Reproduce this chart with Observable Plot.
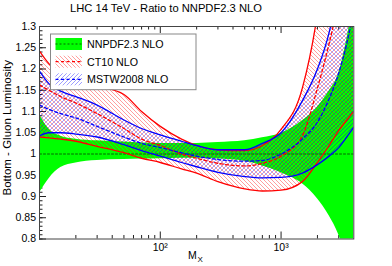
<!DOCTYPE html>
<html><head><meta charset="utf-8">
<script src="https://cdn.jsdelivr.net/npm/d3@7"></script>
<script src="https://cdn.jsdelivr.net/npm/@observablehq/plot@0.6"></script>
<style>
html,body{margin:0;padding:0;background:#fff;}
#chart{width:392px;height:266px;position:relative;}
svg text{font-family:"Liberation Sans",Arial,sans-serif;}
</style></head><body><div id="chart"></div>
<script>
const chartTitle = "LHC 14 TeV - Ratio to NNPDF2.3 NLO";
const yTitle = "Bottom - Gluon Luminosity";
const xTitle = "M";
const xTitleSub = "X";
const seriesNames = ["NNPDF2.3 NLO", "CT10 NLO", "MSTW2008 NLO"];

const mass    = [10, 12, 15, 20, 30, 50, 70, 100, 150, 200, 300, 500, 700, 1000, 1500, 2000, 2500, 3000, 3500, 4000];
const nnpdfUp = [1.093,1.058,1.042,1.035,1.031,1.028,1.026,1.025,1.025,1.025,1.027,1.031,1.038,1.048,1.078,1.110,1.148,1.190,1.270,1.360];
const nnpdfMid= [1,1,1,1,1,1,1,1,1,1,1,1,1,1,1,1,1,1,1,1];
const nnpdfDn = [0.908,0.942,0.968,0.979,0.985,0.987,0.988,0.989,0.990,0.990,0.988,0.983,0.972,0.956,0.930,0.895,0.855,0.810,0.750,0.680];
const ct10Up  = [1.242,1.212,1.190,1.175,1.160,1.140,1.100,1.065,1.035,1.020,1.010,1.008,1.020,1.058,1.155,1.330,1.550,1.800,2.050,2.300];
const ct10Mid = [1.162,1.150,1.135,1.120,1.095,1.060,1.035,1.020,1.000,0.990,0.978,0.972,0.978,0.995,1.043,1.155,1.260,1.360,1.460,1.560];
const ct10Dn  = [1.040,1.038,1.035,1.030,1.018,1.003,0.990,0.980,0.965,0.955,0.935,0.918,0.913,0.915,0.935,0.980,1.020,1.055,1.080,1.100];
const mstwUp  = [1.195,1.165,1.148,1.135,1.115,1.080,1.060,1.045,1.030,1.020,1.010,1.010,1.025,1.050,1.125,1.200,1.286,1.400,1.520,1.650];
const mstwMid = [1.115,1.105,1.095,1.085,1.065,1.040,1.025,1.015,1.003,0.995,0.987,0.983,0.985,1.000,1.035,1.075,1.130,1.190,1.260,1.340];
const mstwDn  = [1.043,1.050,1.050,1.047,1.040,1.022,1.008,0.995,0.980,0.970,0.957,0.947,0.944,0.945,0.955,0.975,0.995,1.015,1.040,1.063];

const yMajor = [0.8,0.85,0.9,0.95,1,1.05,1.1,1.15,1.2,1.25,1.3];
const yMinor = d3.range(80,131).map(v => v/100);
const xMajor = [100, 1000];
const xMinor = [20,30,40,50,60,70,80,90,200,300,400,500,600,700,800,900,2000,3000];
const xLabels = {100: "10²", 1000: "10³"};

const rows = mass.map((m, i) => ({
  m, nU: nnpdfUp[i], nM: nnpdfMid[i], nD: nnpdfDn[i],
  cU: ct10Up[i], cM: ct10Mid[i], cD: ct10Dn[i],
  wU: mstwUp[i], wM: mstwMid[i], wD: mstwDn[i]
}));

const W = 392, H = 266, mL = 39, mR = 38.7, mT = 26, mB = 27.5;
const fw = W - mL - mR, fh = H - mT - mB;
const curve = "monotone-x";
const RED = "#ff0000", BLUE = "#0000ff", GREEN = "#00ff00", DGREEN = "#006a00";

const plot = Plot.plot({
  width: W, height: H,
  marginLeft: mL, marginRight: mR, marginTop: mT, marginBottom: mB,
  style: {fontFamily: "Liberation Sans, Arial, sans-serif", background: "white", overflow: "visible"},
  x: {type: "log", domain: [10, 4000], label: null},
  y: {domain: [0.8, 1.3], label: null},
  marks: [
    Plot.ruleY(yMinor, {insetRight: fw - 3.5, stroke: "#222"}),
    Plot.ruleY(yMajor, {insetRight: fw - 7, stroke: "#222"}),
    Plot.ruleX(xMinor, {insetTop: fh - 3.5, stroke: "#222"}),
    Plot.ruleX(xMajor, {insetTop: fh - 7, stroke: "#222"}),
    Plot.ruleX(xMinor, {insetBottom: fh - 3.5, stroke: "#222"}),
    Plot.ruleX(xMajor, {insetBottom: fh - 7, stroke: "#222"}),
    Plot.areaY(rows, {x: "m", y1: "nD", y2: "nU", fill: GREEN, curve, clip: true}),
    Plot.areaY(rows, {x: "m", y1: "cD", y2: "cU", fill: "url(#hatchRed)", curve, clip: true}),
    Plot.areaY(rows, {x: "m", y1: "wD", y2: "wU", fill: "url(#hatchBlue)", curve, clip: true}),
    Plot.lineY(rows, {x: "m", y: "nM", stroke: DGREEN, strokeWidth: 1, strokeDasharray: "2,2", clip: true}),
    Plot.lineY(rows, {x: "m", y: "cU", stroke: RED, strokeWidth: 1.3, curve, clip: true}),
    Plot.lineY(rows, {x: "m", y: "cD", stroke: RED, strokeWidth: 1.3, curve, clip: true}),
    Plot.lineY(rows, {x: "m", y: "cM", stroke: RED, strokeWidth: 1.3, strokeDasharray: "3,2.5", curve, clip: true}),
    Plot.lineY(rows, {x: "m", y: "wU", stroke: BLUE, strokeWidth: 1.3, curve, clip: true}),
    Plot.lineY(rows, {x: "m", y: "wD", stroke: BLUE, strokeWidth: 1.3, curve, clip: true}),
    Plot.lineY(rows, {x: "m", y: "wM", stroke: BLUE, strokeWidth: 1.3, strokeDasharray: "3,2.5", curve, clip: true}),
    Plot.frame({stroke: "#444"}),
    Plot.axisY(yMajor, {tickSize: 0, tickPadding: 3.5, tickFormat: d => String(+d.toFixed(2)), fontSize: 10.5, label: null}),
    Plot.axisX(xMajor, {tickSize: 0, tickPadding: 4.5, tickFormat: d => xLabels[d], fontSize: 10.5, label: null})
  ]
});
document.getElementById("chart").appendChild(plot);

const svg = d3.select(plot);
const defs = svg.insert("defs", ":first-child");
const pr = defs.append("pattern").attr("id", "hatchRed").attr("patternUnits", "userSpaceOnUse")
  .attr("width", 4).attr("height", 4);
pr.append("path").attr("d", "M-1,-1 L5,5 M-1,3 L1,5 M3,-1 L5,1").attr("stroke", RED).attr("stroke-width", 0.55).attr("stroke-opacity", 0.7);
const pb = defs.append("pattern").attr("id", "hatchBlue").attr("patternUnits", "userSpaceOnUse")
  .attr("width", 4).attr("height", 4);
pb.append("path").attr("d", "M-1,5 L5,-1 M-1,1 L1,-1 M3,5 L5,3").attr("stroke", BLUE).attr("stroke-width", 0.55).attr("stroke-opacity", 0.7);

const font = "Liberation Sans, Arial, sans-serif";
function txt(sel) { return sel.attr("font-family", font).attr("fill", "#000").attr("text-anchor", "start"); }
// title
txt(svg.append("text")).attr("x", 70).attr("y", 11.5).attr("font-size", 11.2).text(chartTitle);
// y title
txt(svg.append("text")).attr("transform", "translate(10.5,60) rotate(-90)").attr("text-anchor", "end")
  .attr("font-size", 11.5).text(yTitle);
// x title
txt(svg.append("text")).attr("x", 188).attr("y", 259).attr("font-size", 10.5).text(xTitle);
txt(svg.append("text")).attr("x", 197.5).attr("y", 262).attr("font-size", 8).text(xTitleSub);

// legend
const lg = svg.append("g");
lg.append("rect").attr("x", 50.5).attr("y", 34).attr("width", 145.5).attr("height", 55.7)
  .attr("fill", "white").attr("stroke", "#888").attr("stroke-width", 1);
const rowsY = [44, 61.7, 79.3];
const swFill = [GREEN, "url(#hatchRed)", "url(#hatchBlue)"];
const swLine = [DGREEN, RED, BLUE];
const swDash = ["2,2", "3,2.5", "3,2.5"];
rowsY.forEach((cy, i) => {
  lg.append("rect").attr("x", 55.5).attr("y", cy - 6).attr("width", 26.5).attr("height", 12).attr("fill", swFill[i]);
  lg.append("line").attr("x1", 55.5).attr("x2", 82).attr("y1", cy).attr("y2", cy)
    .attr("stroke", swLine[i]).attr("stroke-width", 1.2).attr("stroke-dasharray", swDash[i]);
  txt(lg.append("text")).attr("x", 87).attr("y", cy + 3.9).attr("font-size", 10.7).text(seriesNames[i]);
});
</script></body></html>
